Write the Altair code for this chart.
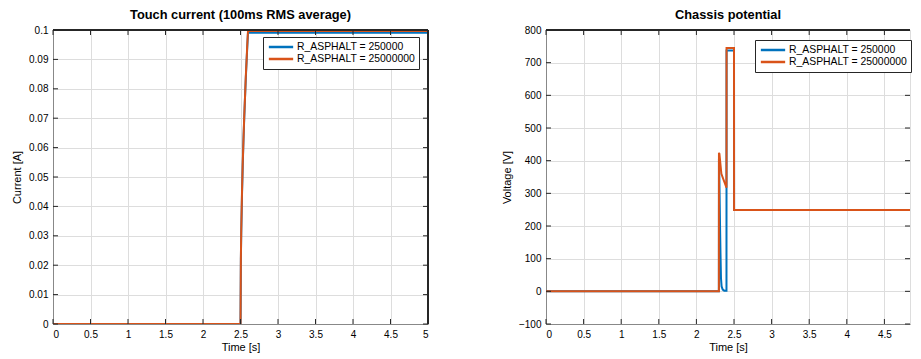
import altair as alt
import pandas as pd

# ---------------- data ----------------
S1 = "R_ASPHALT = 250000"
S2 = "R_ASPHALT = 25000000"

# Touch current (100ms RMS average)
tc_t_blue = [0, 2.5, 2.505, 2.51, 2.52, 2.53, 2.54, 2.55, 2.56, 2.57, 2.58, 2.59, 2.6, 5]
tc_i_blue = [0, 0, 0.022, 0.031, 0.044, 0.054, 0.063, 0.070, 0.077, 0.083, 0.089, 0.094, 0.0991, 0.0991]
tc_t_orange = [0, 2.5, 2.505, 2.51, 2.52, 2.53, 2.54, 2.55, 2.56, 2.57, 2.58, 2.59, 2.6, 5]
tc_i_orange = [0, 0, 0.022, 0.032, 0.045, 0.055, 0.063, 0.071, 0.077, 0.084, 0.089, 0.095, 0.0997, 0.0997]

# Chassis potential
cp_t_blue = [0, 2.299, 2.3, 2.303, 2.306, 2.31, 2.315, 2.32, 2.327, 2.335, 2.35, 2.37, 2.4, 2.401, 2.5, 2.501, 5]
cp_v_blue = [0, 0, 405, 380, 340, 270, 190, 120, 40, 15, 5, 2, 2, 737, 737, 249, 249]
cp_t_orange = [0, 2.299, 2.3, 2.306, 2.332, 2.4, 2.401, 2.5, 2.501, 5]
cp_v_orange = [0, 0, 424, 421, 360, 317, 745, 745, 249, 249]

x_ticks = [0, 0.5, 1, 1.5, 2, 2.5, 3, 3.5, 4, 4.5, 5]
y1_ticks = [0, 0.01, 0.02, 0.03, 0.04, 0.05, 0.06, 0.07, 0.08, 0.09, 0.1]
y2_ticks = [-100, 0, 100, 200, 300, 400, 500, 600, 700, 800]

BLUE = "#0072BD"
ORANGE = "#D95319"
AXC = "#262626"
FONT = "Liberation Sans"


def series_df(tb, vb, to, vo, field):
    rows = [{"t": t, field: v, "s": S1, "o": i} for i, (t, v) in enumerate(zip(tb, vb))]
    rows += [{"t": t, field: v, "s": S2, "o": i} for i, (t, v) in enumerate(zip(to, vo))]
    return pd.DataFrame(rows)


def panel(df, field, ytitle, yticks, ydom, yfmt, title, W, H, xmax, lx, ly, right_border):
    xs = alt.Scale(domain=[0, xmax], nice=False, zero=False)
    ys = alt.Scale(domain=ydom, nice=False, zero=False)
    xv = [v for v in x_ticks if v <= xmax]
    xaxis = alt.Axis(values=xv, format="~g", grid=True, ticks=False,
                     domain=True, labelPadding=5, titlePadding=2,
                     labelOverlap=False, titleFontWeight="normal")
    yaxis = alt.Axis(values=yticks, format=yfmt, grid=True, ticks=False,
                     domain=True, labelPadding=5, titlePadding=6,
                     labelOverlap=False, titleFontWeight="normal")
    lines = alt.Chart(df).mark_line(strokeWidth=2, clip=True).encode(
        x=alt.X("t:Q", scale=xs, title="Time [s]", axis=xaxis),
        y=alt.Y(f"{field}:Q", scale=ys, title=ytitle, axis=yaxis),
        color=alt.Color("s:N", scale=alt.Scale(domain=[S1, S2], range=[BLUE, ORANGE]),
                        legend=alt.Legend(title=None, orient="none", legendX=lx, legendY=ly,
                                          symbolType="M-2.7,0H2.7", symbolSize=81,
                                          symbolOffset=8, symbolStrokeWidth=2.5,
                                          labelFontSize=10.4, labelFont=FONT,
                                          labelColor="#000000",
                                          strokeColor=AXC, fillColor="white",
                                          padding=4, rowPadding=0, labelOffset=10)),
        order="o:Q",
    )
    xt = pd.DataFrame({"t": xv})
    yt = pd.DataFrame({field: yticks})
    tick_b = alt.Chart(xt).mark_rule(color=AXC, strokeWidth=1).encode(
        x=alt.X("t:Q", scale=xs, title="Time [s]", axis=xaxis), y=alt.value(H), y2=alt.value(H - 5))
    tick_t = alt.Chart(xt).mark_rule(color=AXC, strokeWidth=1).encode(
        x=alt.X("t:Q", scale=xs, title="Time [s]", axis=xaxis), y=alt.value(0), y2=alt.value(5))
    tick_l = alt.Chart(yt).mark_rule(color=AXC, strokeWidth=1).encode(
        y=alt.Y(f"{field}:Q", scale=ys, title=ytitle, axis=yaxis), x=alt.value(0), x2=alt.value(5))
    tick_r = alt.Chart(yt).mark_rule(color=AXC, strokeWidth=1).encode(
        y=alt.Y(f"{field}:Q", scale=ys, title=ytitle, axis=yaxis), x=alt.value(W - 5), x2=alt.value(W))
    top_border = alt.Chart(xt).mark_rule(color=AXC, strokeWidth=1).encode(
        x=alt.value(0), x2=alt.value(W), y=alt.value(0))
    layers = [lines, tick_b, tick_t, tick_l, tick_r, top_border]
    if right_border:
        layers.append(alt.Chart(xt).mark_rule(color=AXC, strokeWidth=1).encode(
            x=alt.value(W), y=alt.value(0), y2=alt.value(H)))
    return alt.layer(*layers).properties(
        width=W, height=H,
        title=alt.Title(title, fontSize=12.8, fontWeight="bold", font=FONT,
                        color="#000000", offset=3, anchor="middle"))


df1 = series_df(tc_t_blue, tc_i_blue, tc_t_orange, tc_i_orange, "i")
df2 = series_df(cp_t_blue, cp_v_blue, cp_t_orange, cp_v_orange, "v")

left = panel(df1, "i", "Current [A]", y1_ticks, [0, 0.1], ".2~f",
             "Touch current (100ms RMS average)", 375, 294, 5, 210, 7, True)
right = panel(df2, "v", "Voltage [V]", y2_ticks, [-100, 800], "d",
              "Chassis potential", 364, 294, 364 / 75.2, 209, 10, False)

chart = alt.hconcat(left, right, spacing=71).resolve_scale(
    color="independent", x="independent", y="independent"
).resolve_legend(color="independent").properties(
    padding={"left": 3, "top": 0, "right": 0, "bottom": 0}
).configure_view(strokeWidth=0).configure_axis(
    labelFont=FONT, titleFont=FONT, labelFontSize=11.3, titleFontSize=12.2,
    labelColor=AXC, titleColor=AXC, titleFontWeight="normal",
    domainColor=AXC, domainWidth=1,
    gridColor="#e3e3e3", gridWidth=1,
).configure(background="white")

chart.save("out.html", embed_options={"renderer": "svg", "actions": False})
